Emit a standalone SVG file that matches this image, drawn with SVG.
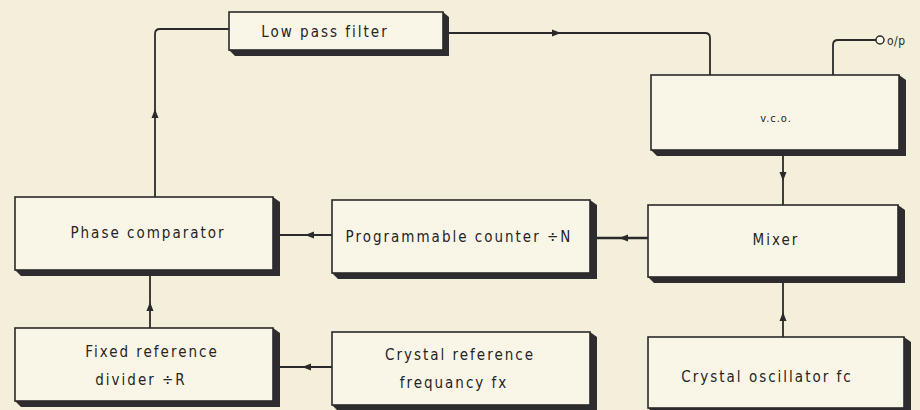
<svg xmlns="http://www.w3.org/2000/svg" xmlns:xlink="http://www.w3.org/1999/xlink" width="920" height="410" viewBox="0 0 920 410">
<style>
.bg{fill:#f4efda}
.box{fill:#f9f6e8;stroke:#2b2a2a;stroke-width:1.6}
.sh{fill:#2e2c2e}
.lbl{font-family:"DejaVu Sans Condensed","DejaVu Sans",sans-serif;font-size:15px;fill:#262424;text-anchor:middle;letter-spacing:2px}
.ln{fill:none;stroke:#2b2a2a;stroke-width:1.8}
.ah{fill:#2b2a2a}
</style>
<defs>
<path id="ah" d="M4,0 L-5,-3.5 L-5,3.5 Z"/>
</defs>
<rect class="bg" x="0" y="0" width="920" height="410"/>

<g id="connectors">
<path class="ln" d="M155,197 L155,34 Q155,29 160,29 L229,29"/>
<use xlink:href="#ah" class="ah" transform="translate(155,113) rotate(-90)"/>
<path class="ln" d="M449,33 L705,33 Q710,33 710,38 L710,75"/>
<use xlink:href="#ah" class="ah" transform="translate(557,33)"/>
<path class="ln" d="M833,75 L833,45 Q833,40 838,40 L876,40"/>
<circle cx="880" cy="40" r="4" fill="#f9f6e8" stroke="#2b2a2a" stroke-width="1.5"/>
<text x="887" y="44.500" style="font-family:'DejaVu Sans Condensed','DejaVu Sans',sans-serif;font-size:12px;fill:#2a2828;letter-spacing:0.500px">o/p</text>
<path class="ln" d="M783,156 L783,205"/>
<use xlink:href="#ah" class="ah" transform="translate(783,177) rotate(90)"/>
<path class="ln" d="M648,238 L596,238" style="stroke-width:2.400"/>
<use xlink:href="#ah" class="ah" transform="translate(623,238) rotate(180)"/>
<path class="ln" d="M332,235 L279,235" style="stroke-width:2.200"/>
<use xlink:href="#ah" class="ah" transform="translate(309,235) rotate(180)"/>
<path class="ln" d="M150,328 L150,276"/>
<use xlink:href="#ah" class="ah" transform="translate(150,306) rotate(-90)"/>
<path class="ln" d="M332,367 L279,367" style="stroke-width:2.200"/>
<use xlink:href="#ah" class="ah" transform="translate(306,367) rotate(180)"/>
<path class="ln" d="M783,337 L783,283"/>
<use xlink:href="#ah" class="ah" transform="translate(783,316) rotate(-90)"/>
</g>

<g id="lpf">
<path class="sh" d="M443,12 L449,17 L449,56 L235,56 L229,50 Z"/>
<rect class="box" x="229" y="12" width="214" height="38"/>
<text class="lbl" x="325" y="37">Low pass filter</text>
</g>

<g id="vco">
<path class="sh" d="M899,75 L906,80 L906,156 L657,156 L651,150 Z"/>
<rect class="box" x="651" y="75" width="248" height="75"/>
<text class="lbl" x="776" y="122" style="font-size:11px;letter-spacing:1px">v.c.o.</text>
</g>

<g id="phase">
<path class="sh" d="M273,197 L280,202 L280,276 L21,276 L15,270 Z"/>
<rect class="box" x="15" y="197" width="258" height="73"/>
<text class="lbl" x="148" y="238">Phase comparator</text>
</g>

<g id="prog">
<path class="sh" d="M590,200 L597,205 L597,279 L338,279 L332,273 Z"/>
<rect class="box" x="332" y="200" width="258" height="73"/>
<text class="lbl" x="459" y="242">Programmable counter ÷N</text>
</g>

<g id="mixer">
<path class="sh" d="M898,205 L905,210 L905,283 L654,283 L648,277 Z"/>
<rect class="box" x="648" y="205" width="250" height="72"/>
<text class="lbl" x="776" y="245">Mixer</text>
</g>

<g id="fixed">
<path class="sh" d="M273,328 L280,333 L280,407 L21,407 L15,401 Z"/>
<rect class="box" x="15" y="328" width="258" height="73"/>
<text class="lbl" x="152" y="357">Fixed reference</text>
<text class="lbl" x="141" y="385">divider ÷R</text>
</g>

<g id="cref">
<path class="sh" d="M590,332 L597,337 L597,411 L338,411 L332,405 Z"/>
<rect class="box" x="332" y="332" width="258" height="73"/>
<text class="lbl" x="460" y="360">Crystal reference</text>
<text class="lbl" x="454" y="388">frequancy fx</text>
</g>

<g id="cosc">
<path class="sh" d="M904,337 L911,342 L911,414 L654,414 L648,408 Z"/>
<rect class="box" x="648" y="337" width="256" height="71"/>
<text class="lbl" x="767" y="382">Crystal oscillator fc</text>
</g>
</svg>
